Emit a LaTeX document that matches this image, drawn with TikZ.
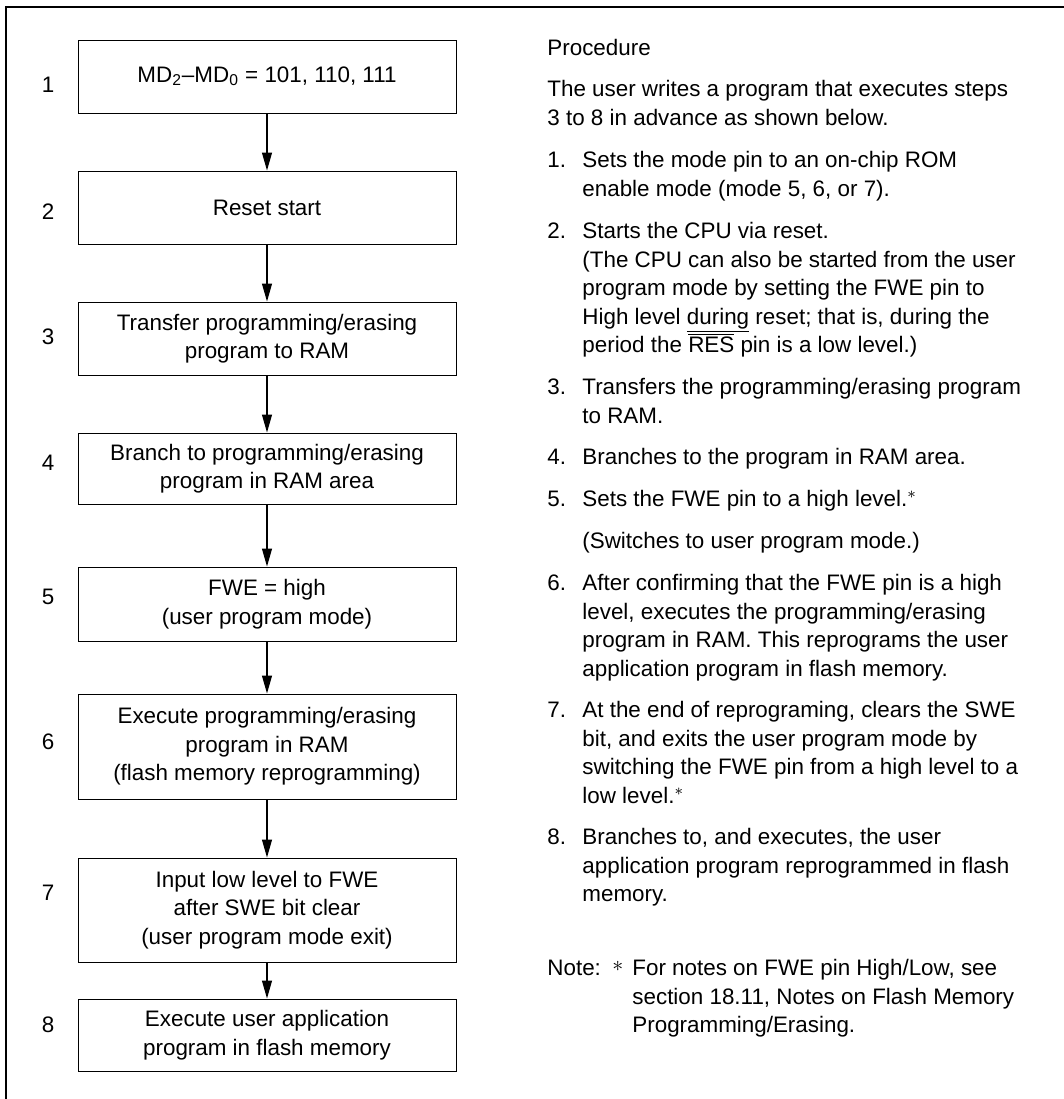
\documentclass[tikz,border=0pt]{standalone}
\usepackage{fontspec}
\setmainfont{Liberation Sans}
\usepackage{tikz}
\usetikzlibrary{arrows.meta, positioning}

\newcommand\ovbar[1]{\setbox0=\hbox{#1}\rlap{\rule[\dimexpr\ht0+1.2pt\relax]{\wd0}{0.4pt}}\box0\relax}

\begin{document}
\begin{tikzpicture}[
			x=0.5pt, y=-0.5pt,
			node distance=28.5pt,
			every node/.style={font=\fontsize{11.2}{14.25}\selectfont},
			stepbox/.style={
				rectangle, draw, line width=0.5pt,
				align=center, minimum width=189pt, minimum height=36.5pt, inner sep=2pt
			},
			num/.style={inner sep=0pt},
			txt/.style={anchor=base west, inner sep=0pt},
			para/.style={anchor=north west, align=left, inner sep=0pt,
				yshift=7.975pt, execute at begin node=\strut},
			arrow/.style={
				-{Triangle[length=9pt,width=5pt]},
				line width=0.6pt
			}
			]
			
			\useasboundingbox (0,0) rectangle (1064,1099);
			\draw[line width=1.2pt] (6,1099) -- (6,7) -- (1064,7);
			
			% flow chart
			\node[stepbox] (mode) at (267,76.5) {MD\textsubscript{2}--MD\textsubscript{0} = 101, 110, 111};
			\node[stepbox, below=of mode] (reset) {Reset start};
			\node[stepbox, below=of reset] (transfer) {Transfer programming/erasing\\program to RAM};
			\node[stepbox, below=of transfer, minimum height=35.5pt] (branch) {Branch to programming/erasing\\program in RAM area};
			\node[stepbox, below=31pt of branch, minimum height=37pt] (fwehigh) {FWE = high\\(user program mode)};
			\node[stepbox, below=26pt of fwehigh, minimum height=52.5pt] (execute) {Execute programming/erasing\\program in RAM\\(flash memory reprogramming)};
			\node[stepbox, below=29pt of execute, minimum height=52pt] (fwelow) {Input low level to FWE\\after SWE bit clear\\(user program mode exit)};
			\node[stepbox, below=18pt of fwelow, minimum height=36pt] (userapp) {Execute user application\\program in flash memory};
			
			\draw[arrow] (mode) -- (reset);
			\draw[arrow] (reset) -- (transfer);
			\draw[arrow] (transfer) -- (branch);
			\draw[arrow] (branch) -- (fwehigh);
			\draw[arrow] (fwehigh) -- (execute);
			\draw[arrow] (execute) -- (fwelow);
			\draw[arrow] (fwelow) -- (userapp);
			
			% step numbers
			\node[num] (n1) at (48,85) {1};
			\node[num] (n2) at (48,212) {2};
			\node[num] (n3) at (48,337) {3};
			\node[num] (n4) at (48,463) {4};
			\node[num] (n5) at (48,597) {5};
			\node[num] (n6) at (48,742) {6};
			\node[num] (n7) at (48,893) {7};
			\node[num] (n8) at (48,1025) {8};
			
			% procedure text
			\node[txt] (proc) at (547,55) {Procedure};
			\node[para] (intro) at (547,96) {The user writes a program that executes steps\\3 to 8 in advance as shown below.};
			\node[txt] (i1) at (547,167) {1.};
			\node[para] (t1) at (582,167) {Sets the mode pin to an on-chip ROM\\enable mode (mode 5, 6, or 7).};
			\node[txt] (i2) at (547,238) {2.};
			\node[para] (t2) at (582,238) {Starts the CPU via reset.\\(The CPU can also be started from the user\\program mode by setting the FWE pin to\\High level \underline{during} reset; that is, during the\\period the \ovbar{RES} pin is a low level.)};
			\node[txt] (i3) at (547,394) {3.};
			\node[para] (t3) at (582,394) {Transfers the programming/erasing program\\to RAM.};
			\node[txt] (i4) at (547,464) {4.};
			\node[txt] (t4) at (582,464) {Branches to the program in RAM area.};
			\node[txt] (i5) at (547,506) {5.};
			\node[txt] (t5) at (582,506) {Sets the FWE pin to a high level.$^{\ast}$};
			\node[txt] (t5b) at (582,548) {(Switches to user program mode.)};
			\node[txt] (i6) at (547,590) {6.};
			\node[para] (t6) at (582,590) {After confirming that the FWE pin is a high\\level, executes the programming/erasing\\program in RAM. This reprograms the user\\application program in flash memory.};
			\node[txt] (i7) at (547,717) {7.};
			\node[para] (t7) at (582,717) {At the end of reprograming, clears the SWE\\bit, and exits the user program mode by\\switching the FWE pin from a high level to a\\low level.$^{\ast}$};
			\node[txt] (i8) at (547,844) {8.};
			\node[para] (t8) at (582,844) {Branches to, and executes, the user\\application program reprogrammed in flash\\memory.};
			
			% note
			\node[txt] (note) at (547,975) {Note:};
			\node[txt] (star) at (612,971) {$\ast$};
			\node[para] (notetext) at (632,975) {For notes on FWE pin High/Low, see\\section 18.11, Notes on Flash Memory\\Programming/Erasing.};
		\end{tikzpicture}
\end{document}
